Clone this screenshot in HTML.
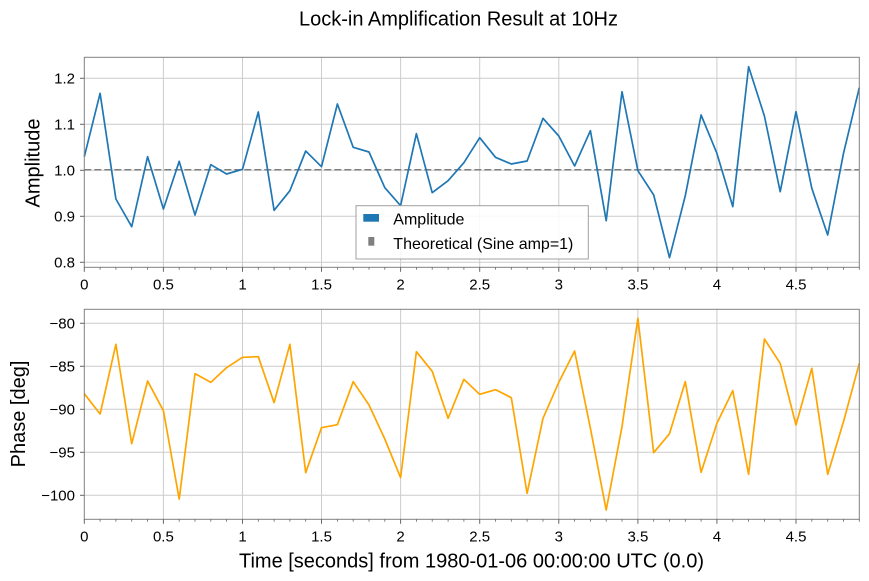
<!DOCTYPE html>
<html>
<head>
<meta charset="utf-8">
<style>
html,body{margin:0;padding:0;background:#fff;}
svg{display:block;font-family:"Liberation Sans",Arial,Helvetica,sans-serif;}
</style>
</head>
<body>
<svg width="869" height="581" viewBox="0 0 869 581" xmlns="http://www.w3.org/2000/svg">
<rect x="0" y="0" width="869" height="581" fill="#fff"/>
<!-- Title -->
<text x="458.5" y="25.7" font-size="20" text-anchor="middle" fill="#000">Lock-in Amplification Result at 10Hz</text>

<!-- ============ TOP AXES ============ -->
<g stroke="#cccccc" stroke-width="1" fill="none">
  <line x1="163.4" y1="57.3" x2="163.4" y2="267.3"/>
  <line x1="242.5" y1="57.3" x2="242.5" y2="267.3"/>
  <line x1="321.5" y1="57.3" x2="321.5" y2="267.3"/>
  <line x1="400.6" y1="57.3" x2="400.6" y2="267.3"/>
  <line x1="479.7" y1="57.3" x2="479.7" y2="267.3"/>
  <line x1="558.8" y1="57.3" x2="558.8" y2="267.3"/>
  <line x1="637.9" y1="57.3" x2="637.9" y2="267.3"/>
  <line x1="716.9" y1="57.3" x2="716.9" y2="267.3"/>
  <line x1="796.0" y1="57.3" x2="796.0" y2="267.3"/>
  <line x1="84.3" y1="262.3" x2="859.3" y2="262.3"/>
  <line x1="84.3" y1="216.3" x2="859.3" y2="216.3"/>
  <line x1="84.3" y1="170.3" x2="859.3" y2="170.3"/>
  <line x1="84.3" y1="124.3" x2="859.3" y2="124.3"/>
  <line x1="84.3" y1="78.3" x2="859.3" y2="78.3"/>
</g>
<line x1="84.3" y1="169.8" x2="859.3" y2="169.8" stroke="#808080" stroke-width="1.5" stroke-dasharray="7,3"/>
<polyline fill="none" stroke="#1f77b4" stroke-width="1.7" stroke-linejoin="round" points="
84.3,156.67 100.1,93.33 115.9,199 131.7,226.67 147.6,156.67 163.4,209 179.2,161.33 195.0,215 210.8,164.67 226.6,174
242.5,169.33 258.3,112 274.1,210.33 289.9,190.67 305.7,151 321.5,166.67 337.4,104 353.2,147.33 369.0,152 384.8,187.67
400.6,205.67 416.4,133.67 432.2,192.67 448.1,180.67 463.9,162.67 479.7,137.67 495.5,157.33 511.3,164 527.1,161 543.0,118.33
558.8,136 574.6,166 590.4,130.67 606.2,220.67 622.0,91.67 637.9,170.67 653.7,195 669.5,257.67 685.3,195.67 701.1,115
716.9,153.33 732.8,206.67 748.6,66.67 764.4,116 780.2,191.67 796.0,111.67 811.8,188.33 827.7,235 843.5,153.33 859.3,87.67"/>
<rect x="84.3" y="57.3" width="775" height="210" fill="none" stroke="#808080" stroke-width="1"/>
<!-- top ticks -->
<g stroke="#666" stroke-width="1">
  <line x1="84.3" y1="267.3" x2="84.3" y2="271.8"/>
  <line x1="163.4" y1="267.3" x2="163.4" y2="271.8"/>
  <line x1="242.5" y1="267.3" x2="242.5" y2="271.8"/>
  <line x1="321.5" y1="267.3" x2="321.5" y2="271.8"/>
  <line x1="400.6" y1="267.3" x2="400.6" y2="271.8"/>
  <line x1="479.7" y1="267.3" x2="479.7" y2="271.8"/>
  <line x1="558.8" y1="267.3" x2="558.8" y2="271.8"/>
  <line x1="637.9" y1="267.3" x2="637.9" y2="271.8"/>
  <line x1="716.9" y1="267.3" x2="716.9" y2="271.8"/>
  <line x1="796.0" y1="267.3" x2="796.0" y2="271.8"/>
  <line x1="80" y1="262.3" x2="84.3" y2="262.3"/>
  <line x1="80" y1="216.3" x2="84.3" y2="216.3"/>
  <line x1="80" y1="170.3" x2="84.3" y2="170.3"/>
  <line x1="80" y1="124.3" x2="84.3" y2="124.3"/>
  <line x1="80" y1="78.3" x2="84.3" y2="78.3"/>
</g>
<g stroke="#666" stroke-width="0.8">
  <path d="M100.1 267.3v2.5M115.9 267.3v2.5M131.7 267.3v2.5M147.6 267.3v2.5M179.2 267.3v2.5M195.0 267.3v2.5M210.8 267.3v2.5M226.6 267.3v2.5M258.3 267.3v2.5M274.1 267.3v2.5M289.9 267.3v2.5M305.7 267.3v2.5M337.4 267.3v2.5M353.2 267.3v2.5M369.0 267.3v2.5M384.8 267.3v2.5M416.4 267.3v2.5M432.2 267.3v2.5M448.1 267.3v2.5M463.9 267.3v2.5M495.5 267.3v2.5M511.3 267.3v2.5M527.1 267.3v2.5M543.0 267.3v2.5M574.6 267.3v2.5M590.4 267.3v2.5M606.2 267.3v2.5M622.0 267.3v2.5M653.7 267.3v2.5M669.5 267.3v2.5M685.3 267.3v2.5M701.1 267.3v2.5M732.8 267.3v2.5M748.6 267.3v2.5M764.4 267.3v2.5M780.2 267.3v2.5M811.8 267.3v2.5M827.7 267.3v2.5M843.5 267.3v2.5M859.3 267.3v2.5"/>
</g>
<g font-size="15" fill="#000" text-anchor="middle">
  <text x="84.3" y="289.3">0</text>
  <text x="163.4" y="289.3">0.5</text>
  <text x="242.5" y="289.3">1</text>
  <text x="321.5" y="289.3">1.5</text>
  <text x="400.6" y="289.3">2</text>
  <text x="479.7" y="289.3">2.5</text>
  <text x="558.8" y="289.3">3</text>
  <text x="637.9" y="289.3">3.5</text>
  <text x="716.9" y="289.3">4</text>
  <text x="796.0" y="289.3">4.5</text>
</g>
<g font-size="15" fill="#000" text-anchor="end">
  <text x="75" y="267.7">0.8</text>
  <text x="75" y="221.7">0.9</text>
  <text x="75" y="175.7">1.0</text>
  <text x="75" y="129.7">1.1</text>
  <text x="75" y="83.7">1.2</text>
</g>
<text transform="translate(39.5,163) rotate(-90)" font-size="20" text-anchor="middle" fill="#000">Amplitude</text>

<!-- Legend -->
<rect x="356" y="205.7" width="232.3" height="53.3" fill="#fff" fill-opacity="0.85" stroke="#a0a0a0" stroke-width="1"/>
<rect x="363.3" y="214" width="15.7" height="7.7" fill="#1f77b4"/>
<rect x="368.3" y="237" width="6" height="8.7" fill="#808080"/>
<text x="393.3" y="224.3" font-size="16" fill="#000">Amplitude</text>
<text x="393.3" y="249" font-size="16" fill="#000">Theoretical (Sine amp=1)</text>

<!-- ============ BOTTOM AXES ============ -->
<g stroke="#cccccc" stroke-width="1" fill="none">
  <line x1="163.4" y1="309.3" x2="163.4" y2="519.3"/>
  <line x1="242.5" y1="309.3" x2="242.5" y2="519.3"/>
  <line x1="321.5" y1="309.3" x2="321.5" y2="519.3"/>
  <line x1="400.6" y1="309.3" x2="400.6" y2="519.3"/>
  <line x1="479.7" y1="309.3" x2="479.7" y2="519.3"/>
  <line x1="558.8" y1="309.3" x2="558.8" y2="519.3"/>
  <line x1="637.9" y1="309.3" x2="637.9" y2="519.3"/>
  <line x1="716.9" y1="309.3" x2="716.9" y2="519.3"/>
  <line x1="796.0" y1="309.3" x2="796.0" y2="519.3"/>
  <line x1="84.3" y1="323.3" x2="859.3" y2="323.3"/>
  <line x1="84.3" y1="366.3" x2="859.3" y2="366.3"/>
  <line x1="84.3" y1="409.3" x2="859.3" y2="409.3"/>
  <line x1="84.3" y1="452.3" x2="859.3" y2="452.3"/>
  <line x1="84.3" y1="495.3" x2="859.3" y2="495.3"/>
</g>
<polyline fill="none" stroke="#ffa500" stroke-width="1.7" stroke-linejoin="round" points="
84.3,393.67 100.1,414 115.9,344.33 131.7,443.67 147.6,381 163.4,410.67 179.2,499 195.0,373.67 210.8,382.33 226.6,367.67
242.5,357.33 258.3,356.67 274.1,402.67 289.9,344.33 305.7,472.67 321.5,427.67 337.4,424.67 353.2,381.67 369.0,405 384.8,439
400.6,477.67 416.4,351.67 432.2,371.33 448.1,418.33 463.9,379.33 479.7,394.33 495.5,389.67 511.3,397.67 527.1,493.33 543.0,418.33
558.8,382.33 574.6,351 590.4,428.33 606.2,510 622.0,426.67 637.9,318.33 653.7,452.67 669.5,433.67 685.3,381.67 701.1,472.33
716.9,423.33 732.8,390.67 748.6,474.33 764.4,339 780.2,363.33 796.0,425 811.8,368.33 827.7,474.33 843.5,421.67 859.3,363.33"/>
<rect x="84.3" y="309.3" width="775" height="210" fill="none" stroke="#808080" stroke-width="1"/>
<g stroke="#666" stroke-width="1">
  <line x1="84.3" y1="519.3" x2="84.3" y2="523.8"/>
  <line x1="163.4" y1="519.3" x2="163.4" y2="523.8"/>
  <line x1="242.5" y1="519.3" x2="242.5" y2="523.8"/>
  <line x1="321.5" y1="519.3" x2="321.5" y2="523.8"/>
  <line x1="400.6" y1="519.3" x2="400.6" y2="523.8"/>
  <line x1="479.7" y1="519.3" x2="479.7" y2="523.8"/>
  <line x1="558.8" y1="519.3" x2="558.8" y2="523.8"/>
  <line x1="637.9" y1="519.3" x2="637.9" y2="523.8"/>
  <line x1="716.9" y1="519.3" x2="716.9" y2="523.8"/>
  <line x1="796.0" y1="519.3" x2="796.0" y2="523.8"/>
  <line x1="80" y1="323.3" x2="84.3" y2="323.3"/>
  <line x1="80" y1="366.3" x2="84.3" y2="366.3"/>
  <line x1="80" y1="409.3" x2="84.3" y2="409.3"/>
  <line x1="80" y1="452.3" x2="84.3" y2="452.3"/>
  <line x1="80" y1="495.3" x2="84.3" y2="495.3"/>
</g>
<g stroke="#666" stroke-width="0.8">
  <path d="M100.1 519.3v2.5M115.9 519.3v2.5M131.7 519.3v2.5M147.6 519.3v2.5M179.2 519.3v2.5M195.0 519.3v2.5M210.8 519.3v2.5M226.6 519.3v2.5M258.3 519.3v2.5M274.1 519.3v2.5M289.9 519.3v2.5M305.7 519.3v2.5M337.4 519.3v2.5M353.2 519.3v2.5M369.0 519.3v2.5M384.8 519.3v2.5M416.4 519.3v2.5M432.2 519.3v2.5M448.1 519.3v2.5M463.9 519.3v2.5M495.5 519.3v2.5M511.3 519.3v2.5M527.1 519.3v2.5M543.0 519.3v2.5M574.6 519.3v2.5M590.4 519.3v2.5M606.2 519.3v2.5M622.0 519.3v2.5M653.7 519.3v2.5M669.5 519.3v2.5M685.3 519.3v2.5M701.1 519.3v2.5M732.8 519.3v2.5M748.6 519.3v2.5M764.4 519.3v2.5M780.2 519.3v2.5M811.8 519.3v2.5M827.7 519.3v2.5M843.5 519.3v2.5M859.3 519.3v2.5"/>
</g>
<g font-size="15" fill="#000" text-anchor="middle">
  <text x="84.3" y="541.5">0</text>
  <text x="163.4" y="541.5">0.5</text>
  <text x="242.5" y="541.5">1</text>
  <text x="321.5" y="541.5">1.5</text>
  <text x="400.6" y="541.5">2</text>
  <text x="479.7" y="541.5">2.5</text>
  <text x="558.8" y="541.5">3</text>
  <text x="637.9" y="541.5">3.5</text>
  <text x="716.9" y="541.5">4</text>
  <text x="796.0" y="541.5">4.5</text>
</g>
<g font-size="15" fill="#000" text-anchor="end">
  <text x="75" y="328.7">−80</text>
  <text x="75" y="371.7">−85</text>
  <text x="75" y="414.7">−90</text>
  <text x="75" y="457.7">−95</text>
  <text x="75" y="500.7">−100</text>
</g>
<text transform="translate(25,414) rotate(-90)" font-size="20" text-anchor="middle" fill="#000">Phase [deg]</text>
<text x="471.5" y="567.7" font-size="20" text-anchor="middle" fill="#000">Time [seconds] from 1980-01-06 00:00:00 UTC (0.0)</text>
</svg>
</body>
</html>
